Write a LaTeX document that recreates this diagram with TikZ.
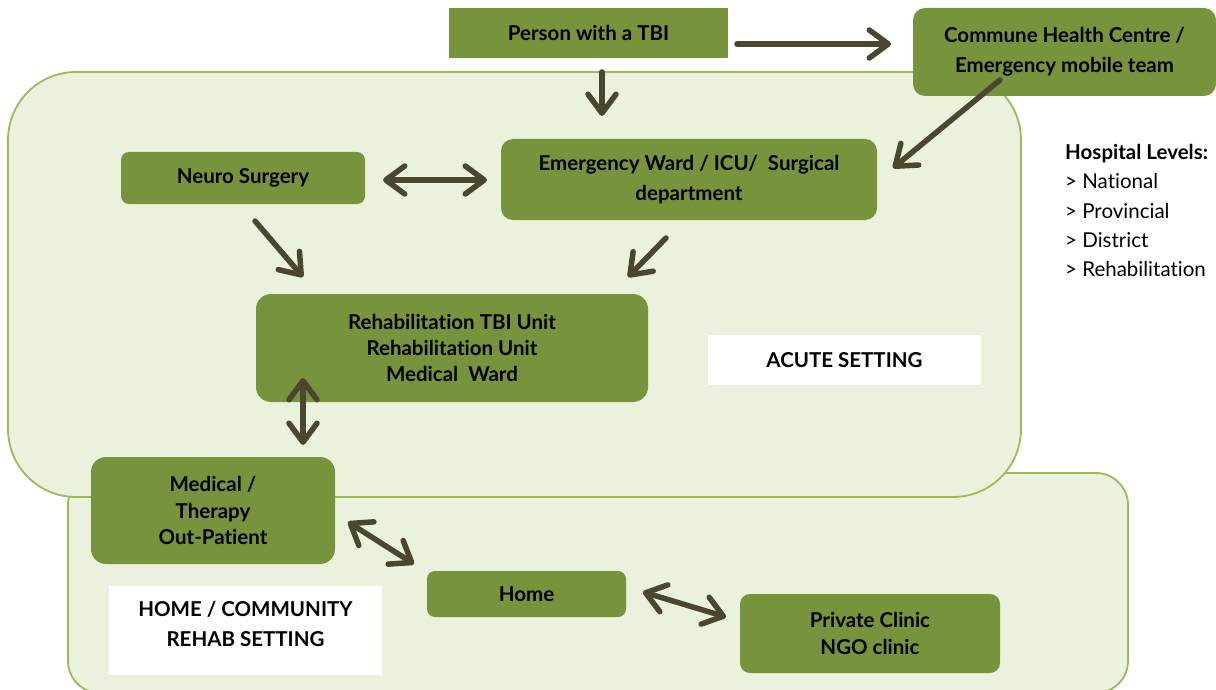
\documentclass[tikz,border=0pt]{standalone}
\usepackage{fontspec}
\setmainfont{Lato}[Ligatures=NoCommon]
\usetikzlibrary{arrows.meta}
\definecolor{regfill}{HTML}{EAF1DD}
\definecolor{regline}{HTML}{9BBB59}
\definecolor{nodefill}{HTML}{77933C}
\definecolor{arrowcol}{HTML}{4B4630}
\tikzset{
  region/.style={fill=regfill,draw=regline,line width=1.8pt},
  gbox/.style={fill=nodefill,draw=none,rounded corners=12pt,align=center,
    font=\fontsize{20.5}{26.3}\selectfont\bfseries,inner sep=0pt},
  wbox/.style={fill=white,draw=none,align=center,
    font=\fontsize{20.5}{30}\selectfont\bfseries,inner sep=0pt},
  flow/.style={draw=arrowcol,line width=5.5pt,line cap=round,-{Straight Barb[length=19pt,width=28pt,round]}},
  flowb/.style={draw=arrowcol,line width=5.5pt,line cap=round,
    {Straight Barb[length=19pt,width=28pt,round]}-{Straight Barb[length=19pt,width=28pt,round]}},
}
\begin{document}
\begin{tikzpicture}[x=1pt,y=-1pt]
\useasboundingbox (0,0) rectangle (1216,690);
% regions
\draw[region,rounded corners=32pt] (68,473) rectangle (1128,693);
\draw[region,rounded corners=68pt] (8,72) rectangle (1021,497);
% nodes
\node[gbox,rounded corners=0pt,minimum width=279pt,minimum height=50pt] (person) at (588.5,33) {Person with a TBI};
\node[gbox,minimum width=303pt,minimum height=88pt,font=\fontsize{20.5}{30}\selectfont\bfseries] (commune) at (1064.5,52) {Commune Health Centre /\\Emergency mobile team};
\node[gbox,minimum width=376pt,minimum height=81pt,font=\fontsize{20.5}{30}\selectfont\bfseries] (emerg) at (689,179.5) {Emergency Ward / ICU/\ \ Surgical\\department};
\node[gbox,rounded corners=8pt,minimum width=244pt,minimum height=52pt] (neuro) at (243,178) {Neuro Surgery};
\node[gbox,rounded corners=15pt,minimum width=392pt,minimum height=108pt] (rehab) at (452,348) {Rehabilitation TBI Unit\\Rehabilitation Unit\\Medical\ \ Ward};
\node[wbox,minimum width=273pt,minimum height=50pt] (acute) at (844.5,360) {ACUTE SETTING};
\node[gbox,rounded corners=15pt,minimum width=244pt,minimum height=107pt] (medical) at (213,510.5) {Medical /\\Therapy\\Out-Patient};
\node[wbox,minimum width=273pt,minimum height=89pt,
  label={[font=\fontsize{20.5}{30}\selectfont\bfseries,align=center,inner sep=0pt,yshift=7pt]center:HOME / COMMUNITY\\REHAB SETTING}] (homecomm) at (245.5,630.5) {};
\node[gbox,rounded corners=8pt,minimum width=199pt,minimum height=46pt] (home) at (526.5,594) {Home};
\node[gbox,rounded corners=10pt,minimum width=260pt,minimum height=79pt] (private) at (870,633.5) {Private Clinic\\NGO clinic};
\node[anchor=north west,align=left,inner sep=0pt,font=\fontsize{20.5}{29.3}\selectfont] (levels) at (1065,144) {{\bfseries Hospital Levels:}\\> National\\> Provincial\\> District\\> Rehabilitation};
% arrow end points
\coordinate (a1s) at (737,44);   \coordinate (a1e) at (891,44);
\coordinate (a2s) at (602,72);   \coordinate (a2e) at (602,116);
\coordinate (a3s) at (1000,80);  \coordinate (a3e) at (893,168);
\coordinate (a4s) at (383,180);  \coordinate (a4e) at (487,180);
\coordinate (a5s) at (255,221);  \coordinate (a5e) at (303,277);
\coordinate (a6s) at (666,238);  \coordinate (a6e) at (628,277);
\coordinate (a7s) at (303,378);  \coordinate (a7e) at (303,445);
\coordinate (a8s) at (348,522);  \coordinate (a8e) at (414,564);
\coordinate (a9s) at (643,592);  \coordinate (a9e) at (726,617);
\draw[flow] (a1s) -- (a1e);
\draw[flow] (a2s) -- (a2e);
\draw[flow] (a3s) -- (a3e);
\draw[flowb] (a4s) -- (a4e);
\draw[flow] (a5s) -- (a5e);
\draw[flow] (a6s) -- (a6e);
\draw[flowb] (a7s) -- (a7e);
\draw[flowb] (a8s) -- (a8e);
\draw[flowb] (a9s) -- (a9e);
\end{tikzpicture}
\end{document}
